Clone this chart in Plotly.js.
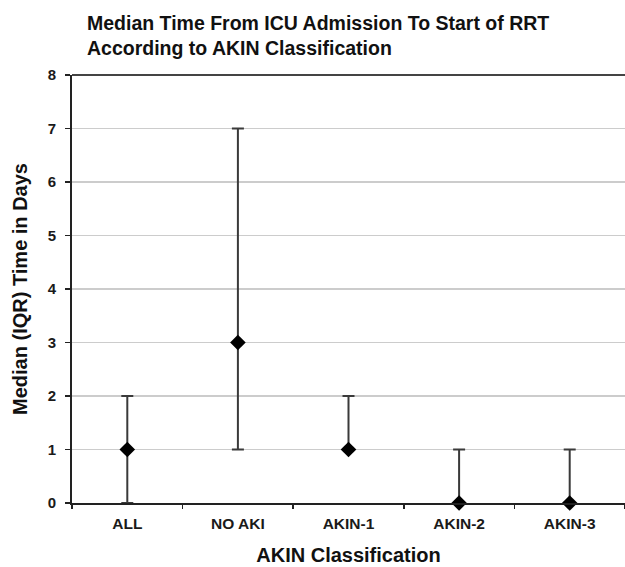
<!DOCTYPE html>
<html>
<head>
<meta charset="utf-8">
<script src="https://cdn.plot.ly/plotly-3.0.1.min.js"></script>
<style>html,body{margin:0;padding:0;background:#fff;}#chart{width:625px;height:567px;}</style>
</head>
<body>
<div id="chart"></div>
<script>
const categories = ["ALL", "NO AKI", "AKIN-1", "AKIN-2", "AKIN-3"];
const medians = [1, 3, 1, 0, 0];
const q1 = [0, 1, 1, 0, 0];
const q3 = [2, 7, 2, 1, 1];
const yTicks = [0, 1, 2, 3, 4, 5, 6, 7, 8];

const errPlus = medians.map((m, i) => q3[i] - m);
const errMinus = medians.map((m, i) => m - q1[i]);

const trace = {
  type: "scatter",
  mode: "markers",
  x: categories,
  y: medians,
  marker: { symbol: "diamond", size: 12, color: "#000" },
  error_y: {
    type: "data",
    symmetric: false,
    array: errPlus,
    arrayminus: errMinus,
    color: "#3a3a3a",
    thickness: 2,
    width: 6
  },
  cliponaxis: false,
  hoverinfo: "skip"
};

const font = "Liberation Sans, Arial, sans-serif";

const layout = {
  width: 625,
  height: 567,
  margin: { l: 72, r: 0, t: 75, b: 64 },
  paper_bgcolor: "#fff",
  plot_bgcolor: "#fff",
  showlegend: false,
  font: { family: font, color: "#111" },
  title: {
    text: "<b>Median Time From ICU Admission To Start of RRT<br>According to AKIN Classification</b>",
    font: { family: font, size: 19.5, color: "#111" },
    xref: "container", yref: "container",
    x: 87 / 625, xanchor: "left",
    y: 1 - 30 / 567, yanchor: "top"
  },
  xaxis: {
    type: "category",
    range: [-0.5, 4.5],
    tickson: "boundaries",
    ticks: "outside",
    ticklen: 4,
    tickwidth: 1.5,
    tickcolor: "#222",
    showgrid: false,
    showline: true,
    linecolor: "#222",
    linewidth: 2,
    ticklabelstandoff: 5,
    tickfont: { family: font, size: 15.5, color: "#1a1a1a", weight: "bold" },
    title: { text: "<b>AKIN Classification</b>", font: { family: font, size: 20, color: "#111" }, standoff: 17 },
    fixedrange: true
  },
  yaxis: {
    range: [0, 8],
    tickvals: yTicks,
    ticks: "outside",
    ticklen: 5,
    tickwidth: 1.5,
    tickcolor: "#222",
    showgrid: true,
    gridcolor: "#cccccc",
    gridwidth: 1.5,
    zeroline: false,
    showline: true,
    linecolor: "#222",
    linewidth: 2,
    ticklabelstandoff: 6,
    tickfont: { family: font, size: 15, color: "#1a1a1a", weight: "bold" },
    title: { text: "<b>Median (IQR) Time in Days</b>", font: { family: font, size: 20, color: "#111" }, standoff: 15 },
    fixedrange: true
  },
  shapes: [
    { type: "line", xref: "paper", yref: "paper", x0: 0, x1: 1, y0: 1, y1: 1,
      line: { color: "#444", width: 2 } }
  ]
};

Plotly.newPlot("chart", [trace], layout, { displayModeBar: false, staticPlot: true });
</script>
</body>
</html>
